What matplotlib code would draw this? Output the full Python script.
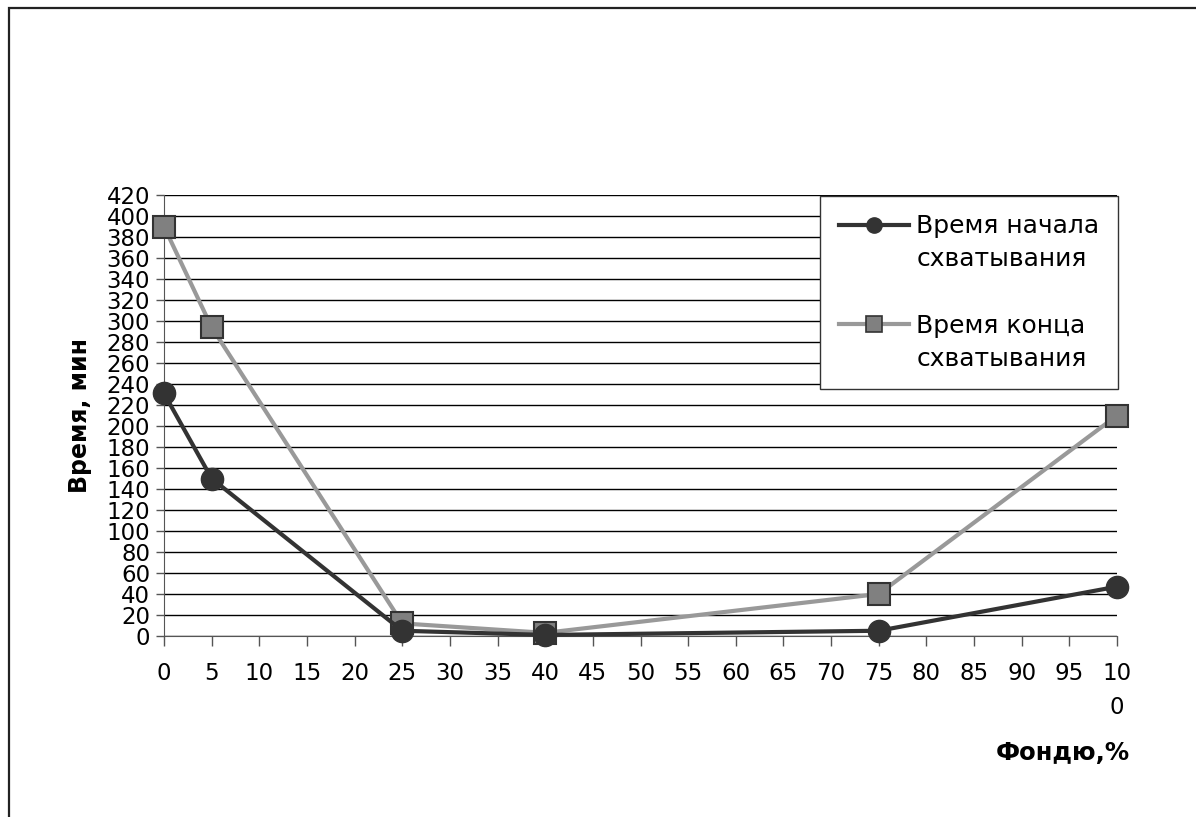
import numpy as np
import matplotlib.pyplot as plt
from matplotlib.patches import Rectangle
from matplotlib.lines import Line2D

plt.rcParams['font.family'] = ['DejaVu Sans']

# доля фондю, % и время схватывания, мин
fondue = [0, 5, 25, 40, 75, 100]
t_start = [231, 150, 5, 1, 5, 47]
t_end = [390, 294, 12, 3, 40, 210]

x_ticks = list(range(0, 101, 5))
x_labels = [str(v) for v in x_ticks[:-1]] + ['10\n0']
y_ticks = list(range(0, 421, 20))

fig = plt.figure(figsize=(11.96, 8.17), dpi=100)

# рамка вокруг рисунка
fig.patches.append(Rectangle((9 / 1196, -0.1), 1.2, 1.1 - 8 / 817,
                             transform=fig.transFigure, fill=False,
                             edgecolor='#222222', linewidth=1.6))

ax = fig.add_axes([164 / 1196, 1 - 636 / 817, 953 / 1196, 441 / 817])

l1, = ax.plot(fondue, t_start, color='#333333', linewidth=3, marker='o',
              markersize=16, markerfacecolor='#333333', markeredgecolor='#333333',
              zorder=4, clip_on=False)
l2, = ax.plot(fondue, t_end, color='#999999', linewidth=3, marker='s',
              markersize=16, markerfacecolor='#808080', markeredgecolor='#333333',
              markeredgewidth=1.5, zorder=3, clip_on=False)

ax.set_xlim(0, 100)
ax.set_ylim(0, 420)
ax.set_xticks(x_ticks)
ax.set_xticklabels(x_labels, fontsize=16.5)
ax.set_yticks(y_ticks)
ax.set_yticklabels([str(v) for v in y_ticks], fontsize=16.5)
ax.tick_params(axis='x', direction='out', length=7, width=1, color='#555555', pad=12)
ax.tick_params(axis='y', direction='out', length=6, width=1, color='#555555', pad=4)
for lbl in ax.get_xticklabels():
    lbl.set_linespacing(1.6)

ax.yaxis.grid(True, color='black', linewidth=1)
ax.set_axisbelow(True)
for side in ['top', 'right']:
    ax.spines[side].set_visible(False)
ax.spines['left'].set_color('#555555')
ax.spines['bottom'].set_color('#555555')

ax.set_ylabel('Время, мин', fontsize=17, fontweight='bold', labelpad=10)
fig.text(1130 / 1196, 1 - 753 / 817, 'Фондю,%', fontsize=17.5, fontweight='bold',
         ha='right', va='center')

# легенда: маркер у первой строки подписи, пустая строка между сериями
h1 = Line2D([], [], color='#333333', linewidth=3, marker='o', markersize=11,
            markerfacecolor='#333333', markeredgecolor='#333333')
h2 = Line2D([], [], color='#999999', linewidth=3, marker='s', markersize=12,
            markerfacecolor='#808080', markeredgecolor='#333333', markeredgewidth=1.2)
blank = Line2D([], [], linestyle='none')
leg = ax.legend([h1, blank, blank, h2, blank],
                ['Время начала', 'схватывания', ' ', 'Время конца', 'схватывания'],
                loc='upper right', bbox_to_anchor=(1118 / 1196, 1 - 196 / 817),
                bbox_transform=fig.transFigure, fontsize=18, frameon=True,
                fancybox=False, edgecolor='#333333', framealpha=1,
                labelspacing=0.36, handlelength=2.8, handletextpad=0.3,
                borderpad=0.74, borderaxespad=0)
leg.get_frame().set_linewidth(1)

fig.savefig('out.png', dpi=100)
